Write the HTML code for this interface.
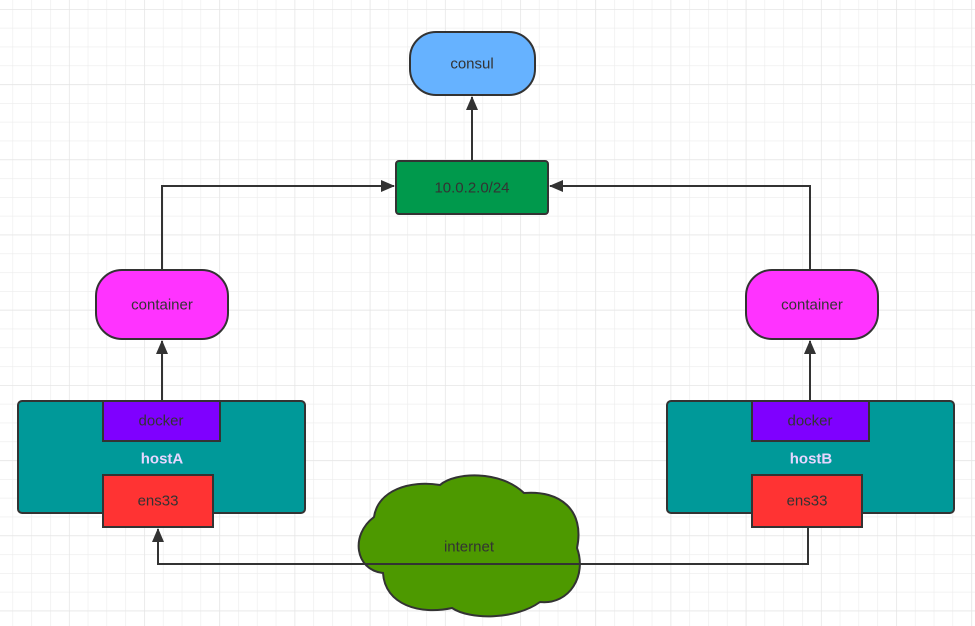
<!DOCTYPE html>
<html><head><meta charset="utf-8"><style>
html,body{margin:0;padding:0;background:#fff;}
svg{display:block;}
text{font-family:"Liberation Sans",sans-serif;font-size:15px;fill:#333;text-anchor:middle;dominant-baseline:central;}
</style></head><body>
<svg width="975" height="626" viewBox="0 0 975 626" xmlns="http://www.w3.org/2000/svg">
<defs>
<pattern id="g" x="12.5" y="9" width="18.8" height="18.8" patternUnits="userSpaceOnUse">
<path d="M0 0H18.8M0 0V18.8" stroke="#ececec" stroke-width="1.2" fill="none"/>
</pattern>
<pattern id="G" x="69" y="9" width="75.2" height="75.2" patternUnits="userSpaceOnUse">
<path d="M0 0H75.2M0 0V75.2" stroke="#e4e4e4" stroke-width="1.2" fill="none"/>
</pattern>
<marker id="a" markerWidth="14" markerHeight="12" refX="13" refY="6" orient="auto" markerUnits="userSpaceOnUse">
<path d="M0 0L14 6L0 12Z" fill="#333"/>
</marker>
</defs>
<rect width="975" height="626" fill="url(#g)"/>
<rect width="975" height="626" fill="url(#G)"/>

<g stroke="#333" stroke-width="2" fill="none">
<path d="M472 161V97" marker-end="url(#a)"/>
<path d="M162 270V186H394" marker-end="url(#a)"/>
<path d="M810 270V186H550" marker-end="url(#a)"/>
<path d="M162 400V341" marker-end="url(#a)"/>
<path d="M810 400V341" marker-end="url(#a)"/>
</g>

<rect x="410" y="32" width="125" height="63" rx="26" fill="#66b2ff" stroke="#333" stroke-width="2"/>
<text x="472" y="64">consul</text>
<rect x="396" y="161" width="152" height="53" rx="3" fill="#00994c" stroke="#333" stroke-width="2"/>
<text x="472" y="188">10.0.2.0/24</text>

<rect x="96" y="270" width="132" height="69" rx="26" fill="#ff33ff" stroke="#333" stroke-width="2"/>
<text x="162" y="305">container</text>
<rect x="746" y="270" width="132" height="69" rx="26" fill="#ff33ff" stroke="#333" stroke-width="2"/>
<text x="812" y="305">container</text>

<rect x="18" y="401" width="287" height="112" rx="4" fill="#009999" stroke="#333" stroke-width="2"/>
<rect x="103" y="401" width="117" height="40" fill="#7f00ff" stroke="#333" stroke-width="2"/>
<text x="161" y="421">docker</text>
<text x="162" y="459" style="fill:#e6d6ff;font-weight:bold">hostA</text>
<rect x="103" y="475" width="110" height="52" fill="#ff3333" stroke="#333" stroke-width="2"/>
<text x="158" y="501">ens33</text>

<rect x="667" y="401" width="287" height="112" rx="4" fill="#009999" stroke="#333" stroke-width="2"/>
<rect x="752" y="401" width="117" height="40" fill="#7f00ff" stroke="#333" stroke-width="2"/>
<text x="810" y="421">docker</text>
<text x="811" y="459" style="fill:#e6d6ff;font-weight:bold">hostB</text>
<rect x="752" y="475" width="110" height="52" fill="#ff3333" stroke="#333" stroke-width="2"/>
<text x="807" y="501">ens33</text>

<path d="M374 517C378 490 410 480 440 485C455 472 500 470 524 493C560 490 585 510 577 548C587 575 570 605 540 602C515 620 470 620 452 608C420 615 385 605 383 573C355 570 350 535 374 517Z" fill="#4d9900" stroke="#333" stroke-width="2"/>
<text x="469" y="547">internet</text>

<path d="M808 527V564H158V529" stroke="#333" stroke-width="2" fill="none" marker-end="url(#a)"/>
</svg>
</body></html>
